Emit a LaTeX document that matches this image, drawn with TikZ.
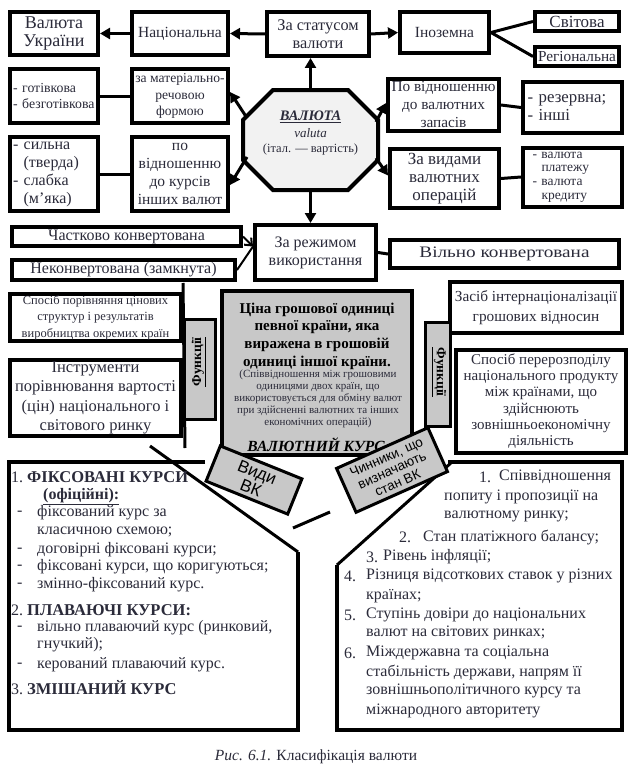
\documentclass[tikz,border=0pt]{standalone}
\usepackage{graphicx}
\usepackage{fontspec}
\setmainfont{Liberation Serif}
\newfontfamily\sansf{Liberation Sans}
\usetikzlibrary{arrows.meta,calc}
\definecolor{txt}{HTML}{2B2B3A}
\definecolor{octfill}{HTML}{F2F2F2}
\definecolor{greyfill}{HTML}{C8C8C8}
\newcommand{\fs}[2]{\fontsize{#1}{#2}\selectfont}
\begin{document}
\begin{tikzpicture}[x=1pt,y=-1pt,
  bx/.style={draw, line width=4pt, fill=white, align=center, inner sep=0pt, text=txt, font=\fs{16}{18}},
  arr/.style={line width=3pt, -{Triangle[length=10pt,width=11pt]}},
  ln/.style={line width=3pt},
  lt/.style={anchor=west, inner sep=0pt, text=txt, font=\fs{16}{18}},
  tab/.style={draw, line width=3pt, fill=greyfill},
]
\useasboundingbox (0,0) rectangle (636,768);
\fill[white] (0,0) rectangle (636,768);

% top row
\node[bx, minimum width=88pt, minimum height=43pt, font=\fs{18}{18}] (ua) at (54,33.5) {Валюта\\України};
\node[bx, minimum width=96pt, minimum height=43pt, font=\fs{15.5}{18}] (nat) at (180,33.5) {Національна};
\node[bx, minimum width=102pt, minimum height=44pt, font=\fs{16.3}{18.5}] (stat) at (318,34) {За статусом\\валюти};
\node[bx, minimum width=89pt, minimum height=41pt, font=\fs{15.5}{18}] (forn) at (444.5,32.5) {Іноземна};
\node[bx, minimum width=84pt, minimum height=19pt, font=\fs{17}{17}] (world) at (577,21.5) {Світова};
\node[bx, minimum width=84pt, minimum height=19pt, font=\fs{15.3}{16}] (reg) at (577,56.5) {Регіональна};
\draw[arr] (stat.west) -- (nat.east);
\draw[arr] (nat.west) -- (ua.east);
\draw[arr] (stat.east) -- (forn.west);
\draw[ln] (forn.east) -- (world.west);
\draw[ln] (forn.east) -- (reg.west);

% octagon
\node[minimum width=135pt, minimum height=100pt, inner sep=0pt, outer sep=0pt] (oct) at (310.5,140) {};
\draw[line width=4pt, fill=octfill]
  ($(oct.north west)+(30,0)$) -- ($(oct.north east)+(-30,0)$) -- ($(oct.north east)+(0,30)$) --
  ($(oct.south east)+(0,-30)$) -- ($(oct.south east)+(-30,0)$) -- ($(oct.south west)+(30,0)$) --
  ($(oct.south west)+(0,-30)$) -- ($(oct.north west)+(0,30)$) -- cycle;
\node[text=txt, font=\fs{14.5}{16}] (octa) at (310.5,117) {\underline{\textbf{\textit{ВАЛЮТА}}}};
\node[text=txt, font=\fs{13}{15}] (octb) at (310.5,133) {\textit{valuta}};
\node[text=txt, font=\fs{12.5}{14}] (octc) at (310.5,149) {(італ. — вартість)};

% row 2
\node[bx, minimum width=88pt, minimum height=54pt, align=left, text width=82pt, font=\fs{13.8}{15.5}] (cash) at (54,96) {- готівкова\\- безготівкова};
\node[bx, minimum width=96pt, minimum height=54pt, font=\fs{13.6}{16.5}] (form) at (180,96) {за матеріально-\\речовою\\формою};
\node[bx, minimum width=88pt, minimum height=74pt, align=left, text width=82pt] (strong) at (54,174) {- сильна\\\phantom{-} (тверда)\\- слабка\\\phantom{-} (м’яка)};
\node[bx, minimum width=96pt, minimum height=74pt, font=\fs{15.5}{18}] (rates) at (180,174) {по\\відношенню\\до курсів\\інших валют};
\node[bx, minimum width=111pt, minimum height=52pt, font=\fs{15.3}{18}] (resv) at (443.5,105) {По відношенню\\до валютних\\запасів};
\node[bx, minimum width=99pt, minimum height=51pt, align=left, text width=90pt, font=\fs{16.8}{18}] (resl) at (572.5,107.5) {- резервна;\\- інші};
\node[bx, minimum width=109pt, minimum height=59pt, font=\fs{17}{18}] (ops) at (444.5,178.5) {За видами\\валютних\\операцій};
\node[bx, minimum width=99pt, minimum height=59pt, align=left, text width=80pt, font=\fs{13.5}{13.8}] (opsl) at (572.5,177) {- валюта\\\phantom{-} платежу\\- валюта\\\phantom{-} кредиту};
\draw[ln] (cash.east) -- (form.west);
\draw[ln] (strong.east) -- (rates.west);
\draw[ln] (resv.east) -- (resl.west);
\draw[ln] (ops.east) -- (opsl.west);
\draw[arr] (oct.north) -- (oct.north |- stat.south);
\draw[arr] ($(oct.north west)+(4,28)$) -- ($(form.east)+(0,-4)$);
\draw[arr] ($(oct.south west)+(4,-33)$) -- ($(rates.east)+(0,11)$);
\draw[arr] ($(oct.north east)+(-2,32)$) -- ($(resv.west)+(0,-2)$);
\draw[arr] ($(oct.south east)+(-2,-32)$) -- ($(ops.west)+(0,-3)$);

% row 3
\node[bx, minimum width=229pt, minimum height=19pt] (part) at (126.5,236.5) {Частково конвертована};
\node[bx, minimum width=223pt, minimum height=20pt] (nonc) at (123.5,270) {Неконвертована (замкнута)};
\node[bx, minimum width=121pt, minimum height=55pt] (regime) at (315.5,252.5) {За режимом\\використання};
\node[bx, minimum width=229pt, minimum height=28pt] (free) at (504.5,254) {\scalebox{1.2}[1]{Вільно конвертована}};
\draw[arr] (oct.south) -- (oct.south |- regime.north);
\draw[line width=2pt, -{Straight Barb[length=6pt,width=10pt]}] (part.east) -- ($(regime.west)+(0,-6)$);
\draw[line width=2pt] (nonc.east) -- ($(regime.west)+(0,-6)$);
\draw[ln] (regime.east) -- (free.west);

% central grey box
\node[draw, line width=4pt, fill=greyfill, minimum width=190pt, minimum height=164pt] (price) at (317,373) {};
\node[text=black, align=center, font=\bfseries\fs{15}{17.7}] (pricet) at (317,336) {Ціна грошової одиниці\\певної країни, яка\\виражена в грошовій\\одиниці іншої країни.};
\node[text=txt, align=center, font=\fs{11}{12}] (prices) at (318,399) {(Співвідношення між грошовими\\одиницями двох країн, що\\використовується для обміну валют\\при здійсненні валютних та інших\\економічних операцій)};
\node[text=black, font=\bfseries\itshape\fs{15.5}{18}] (kurs) at (316,446) {\underline{ВАЛЮТНИЙ КУРС}};

% left functions
\node[bx, minimum width=171pt, minimum height=47pt, font=\fs{12.5}{16.5}] (f1) at (95.5,317.5) {Спосіб порівняння цінових\\структур і результатів\\виробництва окремих країн};
\node[bx, minimum width=171pt, minimum height=76pt, font=\fs{16.5}{19.5}] (f2) at (95.5,398) {Інструменти\\порівнювання вартості\\(цін) національного і\\світового ринку};
\coordinate (flt0) at (183,283);
\coordinate (flb0) at (185,448);
\draw[line width=3pt] (flt0) -- (flb0);
\node[tab, minimum width=31pt, minimum height=100pt] (fl) at (199.5,369) {};
\node[rotate=90, text=black, font=\bfseries\fs{13.5}{15}] (flt) at (199,362) {\underline{Функції}};

% right functions
\node[bx, minimum width=172pt, minimum height=51pt, font=\fs{15.3}{20}] (f3) at (536,307.5) {Засіб інтернаціоналізації\\грошових відносин};
\node[bx, minimum width=170pt, minimum height=103pt, font=\fs{15}{16.3}] (f4) at (541,401) {Спосіб перерозподілу\\національного продукту\\між країнами, що\\здійснюють\\зовнішньоекономічну\\діяльність};
\node[tab, minimum width=25pt, minimum height=104pt] (fr) at (437.5,374) {};
\node[rotate=-90, text=black, font=\bfseries\fs{13.5}{15}] (frt) at (439,372) {\underline{Функції}};

% bottom boxes
\coordinate (lb1) at (205,462);
\coordinate (lb2) at (9,462);
\coordinate (lb3) at (9,730);
\coordinate (lb4) at (298,730);
\coordinate (lb5) at (298,552);
\coordinate (lbd) at (150,446);
\draw[line width=4.5pt] (lb1) -- (lb2) -- (lb3) -- (lb4) -- (lb5);
\draw[line width=3pt] (lbd) -- (lb5);
\coordinate (rb1) at (448,462);
\coordinate (rb2) at (622,462);
\coordinate (rb3) at (622,730);
\coordinate (rb4) at (337,730);
\coordinate (rb5) at (337,565);
\coordinate (rbd) at (452,462);
\draw[line width=4.5pt] (rb1) -- (rb2) -- (rb3) -- (rb4) -- (rb5);
\draw[line width=3pt] (rb5) -- (rbd);
\coordinate (ys1) at (293,528);
\coordinate (ys2) at (330,512);
\draw[line width=3pt] (ys1) -- (ys2);

% tabs
\node[tab, rotate=-22, minimum width=88pt, minimum height=38pt, align=center, inner sep=0pt, font=\sansf\fs{17}{17}] (vidy) at (254,480) {Види\\ВК};
\node[tab, rotate=24, minimum width=100pt, minimum height=48pt, align=center, inner sep=0pt, font=\sansf\fs{13.5}{14}] (chyn) at (392,470) {Чинники, що\\визначають\\стан ВК};

% left list
\node[lt] (l1) at (11,477) {1.\ \textbf{\fs{16.5}{18}ФІКСОВАНІ КУРСИ}};
\node[lt] (l2) at (43,497) {\textbf{\underline{(офіційні):}}};
\node[lt] (d1) at (17,513) {-};
\node[lt] (l3) at (37,513) {фіксований курс за};
\node[lt] (l4) at (37,532) {класичною схемою;};
\node[lt] (d2) at (17,550) {-};
\node[lt] (l5) at (37,550) {договірні фіксовані курси;};
\node[lt] (d3) at (17,567) {-};
\node[lt] (l6) at (37,567) {фіксовані курси, що коригуються;};
\node[lt] (d4) at (17,585) {-};
\node[lt] (l7) at (37,585) {змінно-фіксований курс.};
\node[lt] (l8) at (11,610) {2.\ \textbf{\fs{16.5}{18}ПЛАВАЮЧІ КУРСИ:}};
\node[lt] (d5) at (17,628) {-};
\node[lt] (l9) at (37,628) {вільно плаваючий курс (ринковий,};
\node[lt] (l10) at (37,645) {гнучкий);};
\node[lt] (d6) at (17,665) {-};
\node[lt] (l11) at (37,665) {керований плаваючий курс.};
\node[lt] (l12) at (11,688) {3.\ \textbf{\fs{16.5}{18}ЗМІШАНИЙ КУРС}};

% right list
\node[lt] (r1n) at (479,477) {1.};
\node[lt] (r1) at (499,477) {Співвідношення};
\node[lt] (r1b) at (444,497) {попиту і пропозиції на};
\node[lt] (r1c) at (444,516) {валютному ринку;};
\node[lt] (r2n) at (399,537) {2.};
\node[lt] (r2) at (423,537) {Стан платіжного балансу;};
\node[lt] (r3n) at (366,557) {3.};
\node[lt] (r3) at (383,557) {Рівень інфляції;};
\node[lt] (r4n) at (344,576) {4.};
\node[lt] (r4) at (366,576) {Різниця відсоткових ставок у різних};
\node[lt] (r4b) at (366,596) {країнах;};
\node[lt] (r5n) at (344,615) {5.};
\node[lt] (r5) at (366,615) {Ступінь довіри до національних};
\node[lt] (r5b) at (366,633) {валют на світових ринках;};
\node[lt] (r6n) at (344,653) {6.};
\node[lt] (r6) at (366,653) {Міждержавна та соціальна};
\node[lt] (r6b) at (366,672) {стабільність держави, напрям її};
\node[lt] (r6c) at (366,691) {зовнішньополітичного курсу та};
\node[lt] (r6d) at (366,711) {міжнародного авторитету};

% caption
\node[text=txt, font=\fs{15.5}{17}] (cap) at (316,757) {\textit{Рис. 6.1.} Класифікація валюти};
\end{tikzpicture}
\end{document}
